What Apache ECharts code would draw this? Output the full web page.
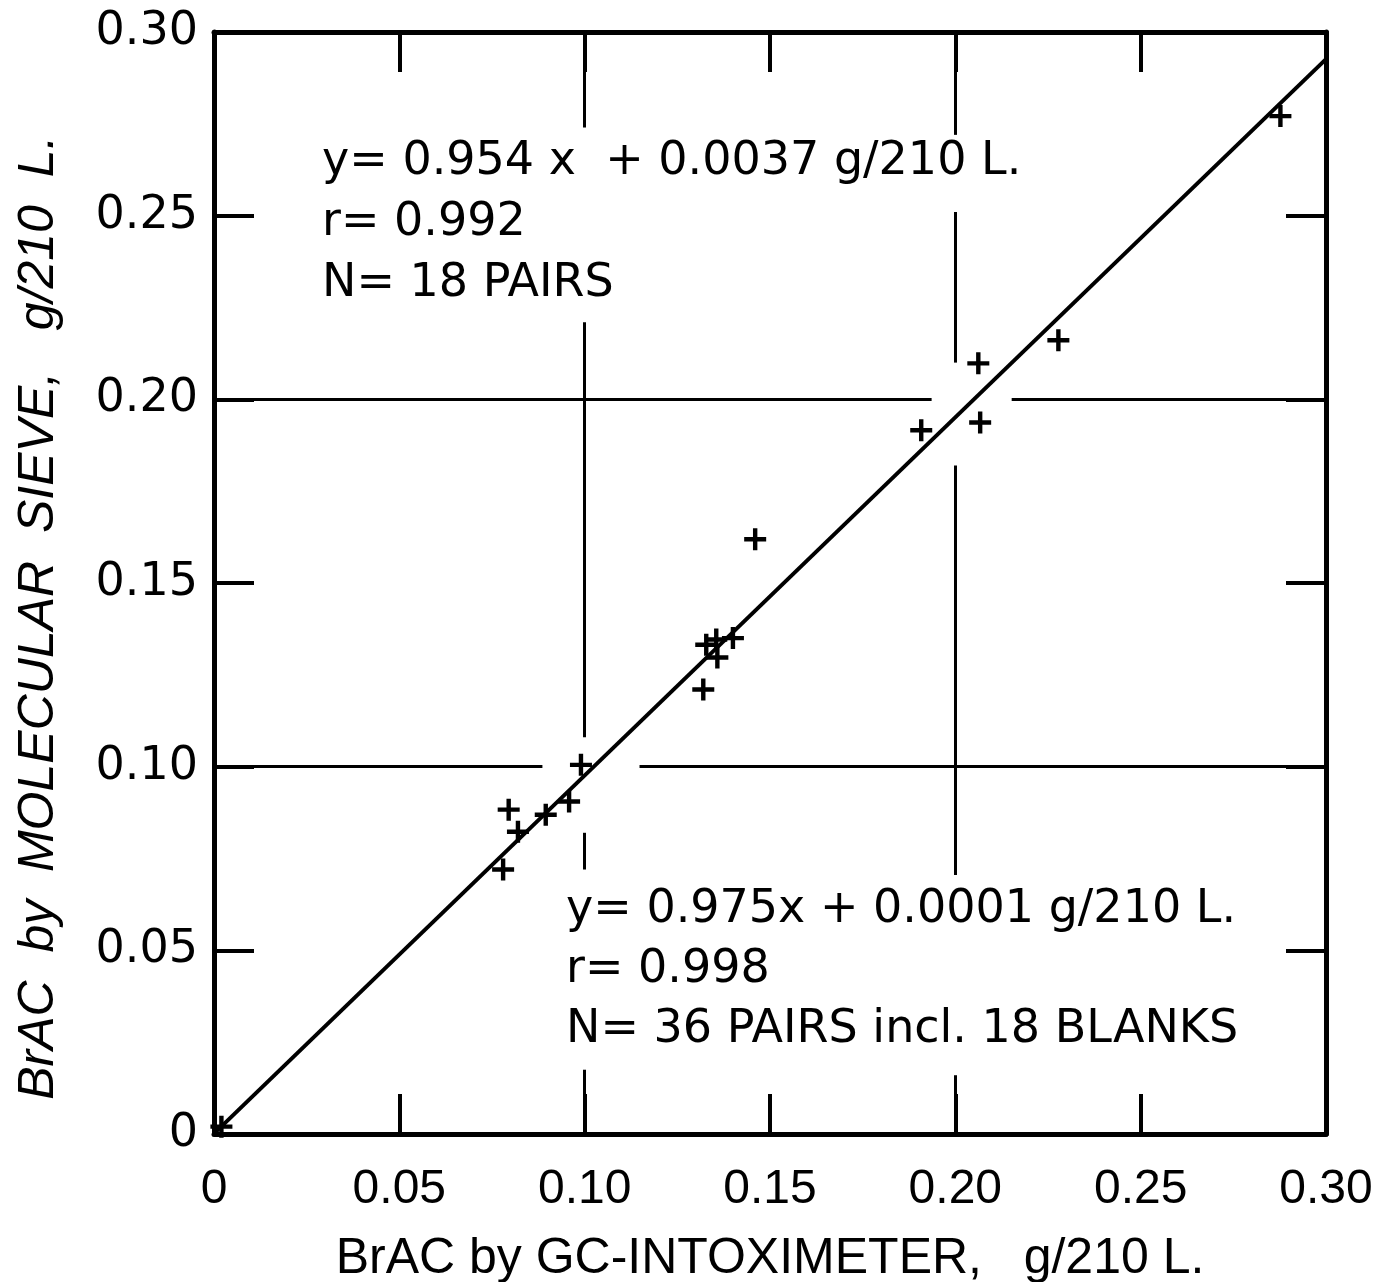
<!DOCTYPE html>
<html>
<head>
<meta charset="utf-8">
<script src="https://cdn.jsdelivr.net/npm/echarts@6/dist/echarts.min.js"></script>
<style>
html,body{margin:0;padding:0;background:#fff;}
#main{width:1377px;height:1282px;}
</style>
</head>
<body>
<div id="main"></div>
<script>
// measured pairs (GC-Intoximeter x, molecular sieve y), g/210 L
var pairX = [0.002, 0.078, 0.0795, 0.082, 0.0895, 0.0958, 0.099, 0.132, 0.1328, 0.1355, 0.1358, 0.140, 0.146, 0.1908, 0.2062, 0.2067, 0.2278, 0.2877];
var pairY = [0.002, 0.072, 0.0883, 0.0823, 0.0869, 0.0905, 0.1005, 0.121, 0.1332, 0.1346, 0.1297, 0.135, 0.1619, 0.1916, 0.2098, 0.1937, 0.2161, 0.2771];
// regression line end points
var fitX = [0, 0.30];
var fitY = [0.0001, 0.2926];
var tickVals = ['0', '0.05', '0.10', '0.15', '0.20', '0.25', '0.30'];
// broken grid lines: [x1, y1, x2, y2]
var gridSegs = [
	[0.10, 0.300, 0.10, 0.274],
	[0.10, 0.221, 0.10, 0.108],
	[0.10, 0.082, 0.10, 0.072],
	[0.10, 0.0175, 0.10, 0],
	[0.20, 0.300, 0.20, 0.272],
	[0.20, 0.251, 0.20, 0.210],
	[0.20, 0.182, 0.20, 0.0705],
	[0.20, 0.016, 0.20, 0],
	[0, 0.10, 0.0886, 0.10],
	[0.1148, 0.10, 0.30, 0.10],
	[0, 0.20, 0.1936, 0.20],
	[0.2152, 0.20, 0.30, 0.20]
];
var note1 = ['y= 0.954 x  + 0.0037 g/210 L.', 'r= 0.992', 'N= 18 PAIRS'];
var note2 = ['y= 0.975x + 0.0001 g/210 L.', 'r= 0.998', 'N= 36 PAIRS incl. 18 BLANKS'];

var myChart = echarts.init(document.getElementById('main'));

var pts = [];
for (var i = 0; i < pairX.length; i++) {
	pts.push([pairX[i], pairY[i]]);
}
var fit = [];
for (var j = 0; j < fitX.length; j++) {
	fit.push([fitX[j], fitY[j]]);
}
var segs = gridSegs.map(function(s){
	return [{coord:[s[0], s[1]]}, {coord:[s[2], s[3]]}];
});

function fmt(v){
	var k = Math.round(v * 100);
	return tickVals[k / 5] !== undefined ? tickVals[k / 5] : '';
}

var tickStyle = {show:true, inside:true, length:40, lineStyle:{color:'#000', width:4}};
var axisLn = {show:true, onZero:false, lineStyle:{color:'#000', width:5}};
var plus = 'path://M4,0 H6 V4 H10 V6 H6 V10 H4 V6 H0 V4 H4 Z';
var txtFont = '"DejaVu Sans", sans-serif';
var narrow = '"Liberation Sans Narrow", "Liberation Sans", sans-serif';

option = {
	backgroundColor:'#fff',
	animation:false,
	grid:{left:214, top:32, right:51, bottom:148, containLabel:false, outerBoundsMode:'none'},
	xAxis:[{
		type:'value', min:0, max:0.30, interval:0.05,
		axisLine:axisLn, axisTick:tickStyle, splitLine:{show:false},
		axisLabel:{formatter:fmt, margin:32, color:'#000', fontSize:48, fontFamily:narrow},
		name:'BrAC by GC-INTOXIMETER,   g/210 L.', nameLocation:'middle', nameGap:100,
		nameTextStyle:{color:'#000', fontSize:50, fontFamily:narrow}
	},{
		type:'value', min:0, max:0.30, interval:0.05, position:'top',
		axisLine:axisLn, axisTick:tickStyle, splitLine:{show:false}, axisLabel:{show:false}
	}],
	yAxis:[{
		type:'value', min:0, max:0.30, interval:0.05,
		axisLine:axisLn, axisTick:tickStyle, splitLine:{show:false},
		axisLabel:{formatter:fmt, margin:16, color:'#000', fontSize:46, fontFamily:txtFont},
		name:'BrAC  by  MOLECULAR  SIEVE,   g/210  L.\u00a0\u00a0\u00a0\u00a0\u00a0', nameLocation:'middle', nameGap:150,
		nameTextStyle:{color:'#000', fontSize:50, fontStyle:'italic', fontFamily:narrow}
	},{
		type:'value', min:0, max:0.30, interval:0.05, position:'right',
		axisLine:axisLn, axisTick:tickStyle, splitLine:{show:false}, axisLabel:{show:false}
	}],
	graphic:[{
		type:'text', left:322, top:132,
		style:{text:note1.join('\n'), fill:'#000', font:'46px ' + txtFont, lineHeight:61}
	},{
		type:'text', left:566, top:880,
		style:{text:note2.join('\n'), fill:'#000', font:'46px ' + txtFont, lineHeight:60}
	}],
	series:[{
		type:'line',
		data:fit,
		symbol:'none',
		lineStyle:{color:'#000', width:4},
		silent:true,
		markLine:{
			silent:true, symbol:'none', label:{show:false},
			lineStyle:{color:'#000', width:3, type:'solid'},
			data:segs
		},
		z:3
	},{
		type:'scatter',
		data:pts,
		symbol:plus,
		symbolSize:22,
		itemStyle:{color:'#000', opacity:1},
		z:4
	}]
};

myChart.setOption(option);
</script>
</body>
</html>
